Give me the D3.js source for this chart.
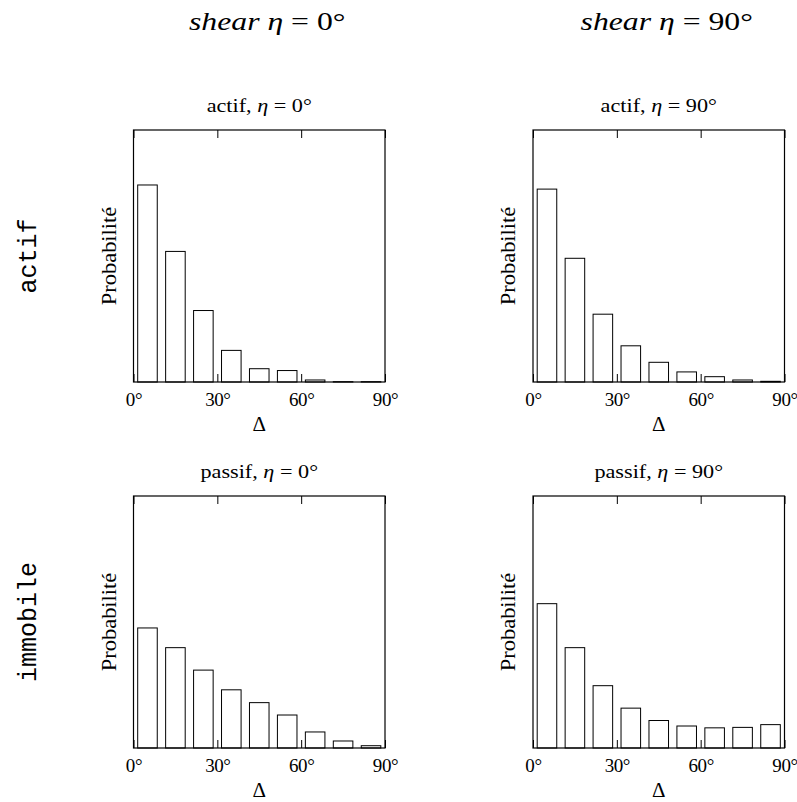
<!DOCTYPE html>
<html>
<head>
<meta charset="utf-8">
<script src="https://cdn.jsdelivr.net/npm/d3@7"></script>
<style>
  html, body { margin: 0; padding: 0; background: #fff; }
  svg { display: block; }
</style>
</head>
<body>
<svg id="chart" width="797" height="802"></svg>
<script>
// ---- Data ----
const binStarts = [0, 10, 20, 30, 40, 50, 60, 70, 80];   // degrees (Δ bins, width 10°)
const tickValues = [0, 30, 60, 90];
const columnTitles = ["0°", "90°"];                       // shear η
const rowLabels = ["actif", "immobile"];
const panelTitles = [["actif", "0°"], ["actif", "90°"], ["passif", "0°"], ["passif", "90°"]];

const actifEta0   = [0.430, 0.285, 0.156, 0.069, 0.029, 0.025, 0.0044, 0.0007, 0.0007];
const actifEta90  = [0.421, 0.270, 0.148, 0.079, 0.043, 0.022, 0.0116, 0.0044, 0.0015];
const passifEta0  = [0.262, 0.219, 0.170, 0.127, 0.099, 0.072, 0.035, 0.0153, 0.005];
const passifEta90 = [0.315, 0.219, 0.136, 0.087, 0.060, 0.048, 0.044, 0.045, 0.051];
const panelValues = [actifEta0, actifEta90, passifEta0, passifEta90];

const yMax = 0.55;

// ---- Layout ----
const colX = [133.5, 533];
const rowY = [130, 496];
const W = 251.5, H = 252;
const serif = "'Liberation Serif', 'Times New Roman', serif";

const svg = d3.select("#chart");

// widen text horizontally (Computer Modern is wider than Times)
function stretch(sel, factor) {
  const n = sel.node();
  const L = n.getComputedTextLength();
  sel.attr("textLength", L * factor).attr("lengthAdjust", "spacingAndGlyphs");
}

const x = d3.scaleLinear().domain([0, 90]).range([0, W]);
const y = d3.scaleLinear().domain([0, yMax]).range([H, 0]);

// Column titles
columnTitles.forEach((t, c) => {
  const txt = svg.append("text")
    .attr("x", colX[c] + W / 2 + 8)
    .attr("y", 30)
    .attr("text-anchor", "middle")
    .style("font-family", serif)
    .style("font-size", "26px");
  txt.append("tspan").style("font-style", "italic").text("shear η");
  txt.append("tspan").text(" = " + t);
  stretch(txt, 1.22);
});

// Row labels
rowLabels.forEach((t, r) => {
  svg.append("text")
    .attr("transform", `translate(36,${rowY[r] + H / 2}) rotate(-90)`)
    .attr("text-anchor", "middle")
    .style("font-family", "'Liberation Mono', 'DejaVu Sans Mono', monospace")
    .style("font-size", "25px")
    .text(t);
});

panelValues.forEach((vals, i) => {
  const r = Math.floor(i / 2), c = i % 2;
  const g = svg.append("g").attr("transform", `translate(${colX[c]},${rowY[r]})`);

  // Title
  const tt = g.append("text")
    .attr("x", W / 2)
    .attr("y", -18.5)
    .attr("text-anchor", "middle")
    .style("font-family", serif)
    .style("font-size", "18.5px");
  tt.append("tspan").text(panelTitles[i][0] + ", ");
  tt.append("tspan").style("font-style", "italic").text("η");
  tt.append("tspan").text(" = " + panelTitles[i][1]);
  stretch(tt, 1.2);

  // Bars
  g.selectAll("rect.bar")
    .data(vals)
    .join("rect")
    .attr("class", "bar")
    .attr("x", (d, k) => x(binStarts[k] + 1.5))
    .attr("width", (d, k) => x(binStarts[k] + 8.5) - x(binStarts[k] + 1.5))
    .attr("y", d => y(d))
    .attr("height", d => y(0) - y(d))
    .attr("fill", "#fff")
    .attr("stroke", "#000")
    .attr("stroke-width", 1);

  // Bottom axis (ticks inward)
  const bx = g.append("g")
    .attr("transform", `translate(0,${H})`)
    .call(d3.axisBottom(x).tickValues(tickValues).tickSizeInner(-8).tickSizeOuter(0)
      .tickPadding(11).tickFormat(d => d + "°"));
  bx.select(".domain").remove();
  bx.selectAll("line").attr("stroke", "#000");
  bx.selectAll("text").style("font-family", serif).style("font-size", "19px")
    .style("letter-spacing", "-0.4px").attr("fill", "#000");

  // Top axis (ticks inward, no labels)
  const tx = g.append("g")
    .call(d3.axisTop(x).tickValues(tickValues).tickSizeInner(-8).tickSizeOuter(0).tickFormat(""));
  tx.select(".domain").remove();
  tx.selectAll("line").attr("stroke", "#000");

  // Frame
  g.append("rect")
    .attr("x", 0).attr("y", 0).attr("width", W).attr("height", H)
    .attr("fill", "none").attr("stroke", "#000").attr("stroke-width", 1.2);

  // X label
  g.append("text")
    .attr("x", W / 2)
    .attr("y", H + 49)
    .attr("text-anchor", "middle")
    .style("font-family", serif)
    .style("font-size", "21px")
    .text("Δ");

  // Y label
  const yl = g.append("text")
    .attr("transform", `translate(-18,${H / 2}) rotate(-90)`)
    .attr("text-anchor", "middle")
    .style("font-family", serif)
    .style("font-size", "21px")
    .text("Probabilité");
  stretch(yl, 1.07);
});
</script>
</body>
</html>
